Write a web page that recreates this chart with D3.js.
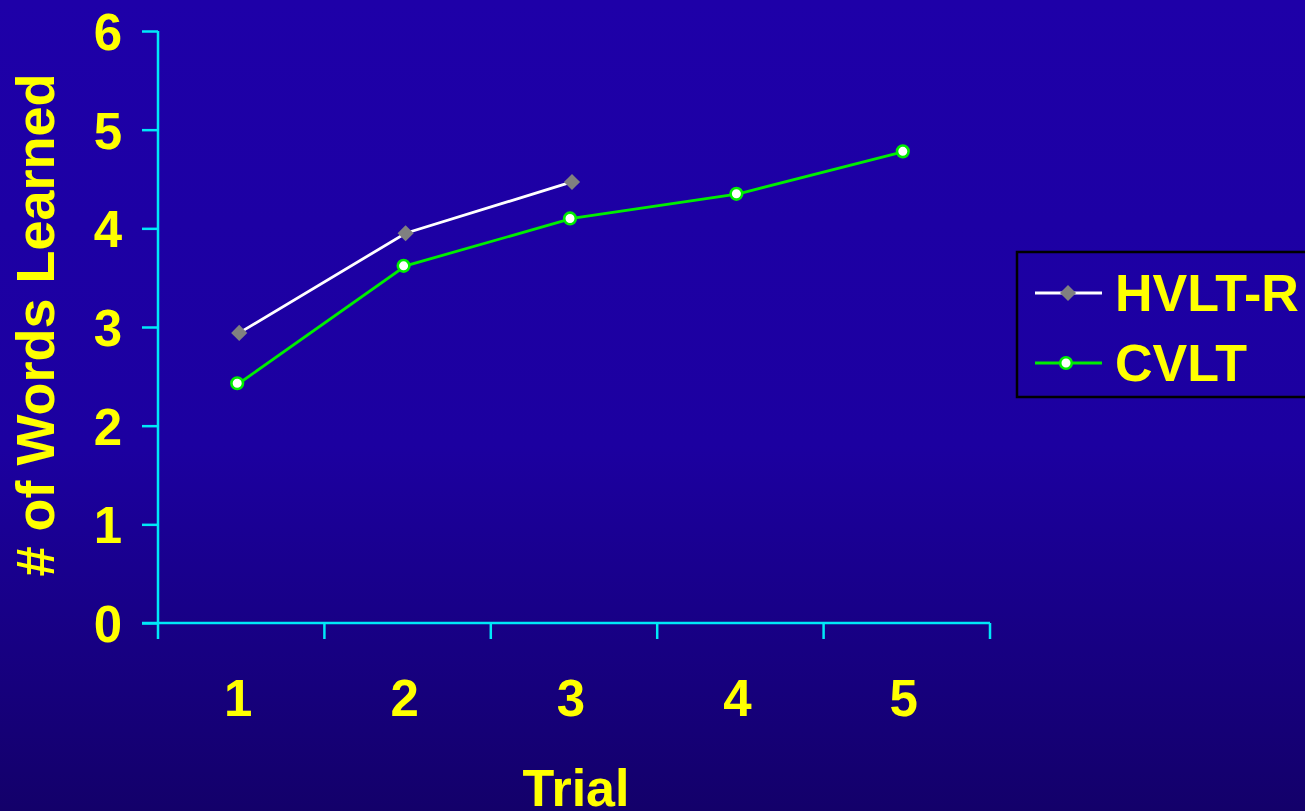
<!DOCTYPE html>
<html>
<head>
<meta charset="utf-8">
<script src="https://cdn.jsdelivr.net/npm/d3@7"></script>
<style>
  html, body { margin: 0; padding: 0; background: #1e00a6; }
  svg { display: block; }
  text { font-family: "Liberation Sans", Arial, sans-serif; font-weight: bold; fill: #ffff00; }
</style>
</head>
<body>
<script>
// Word-list learning data per trial
const trials = ["1", "2", "3", "4", "5"];
const hvltValues = [2.94, 3.95, 4.47];
const cvltValues = [2.43, 3.62, 4.10, 4.35, 4.78];
const yTicks = [0, 1, 2, 3, 4, 5, 6];
const seriesNames = ["HVLT-R", "CVLT"];

const W = 1305, H = 811;
const svg = d3.select("body").append("svg").attr("width", W).attr("height", H);

// background gradient
const defs = svg.append("defs");
const grad = defs.append("linearGradient").attr("id", "bg").attr("x1", 0).attr("y1", 0).attr("x2", 0).attr("y2", 1);
grad.append("stop").attr("offset", "0%").attr("stop-color", "#1e00a8");
grad.append("stop").attr("offset", "55%").attr("stop-color", "#1c00a0");
grad.append("stop").attr("offset", "100%").attr("stop-color", "#13006a");
svg.append("rect").attr("width", W).attr("height", H).attr("fill", "url(#bg)");

const x = d3.scaleBand().domain(trials).range([158, 990]).paddingInner(0).paddingOuter(0);
const y = d3.scaleLinear().domain([0, 6]).range([623, 31]);

const axisColor = "#00e8f8";

// y axis
const yAxis = svg.append("g").attr("transform", "translate(158,0)")
  .call(d3.axisLeft(y).tickValues(yTicks).tickSize(16).tickPadding(20).tickFormat(d3.format("d")));
yAxis.select(".domain").attr("stroke", axisColor).attr("stroke-width", 2.5).attr("d", "M0,31V623");
yAxis.selectAll(".tick line").attr("stroke", axisColor).attr("stroke-width", 2.5);
yAxis.selectAll(".tick text").attr("font-size", 51).attr("fill", "#ffff00").attr("dy", "0.36em")
  .style("font-family", "'Liberation Sans', Arial, sans-serif").style("font-weight", "bold");

// x axis: ticks at band boundaries, labels at band centers
const xg = svg.append("g");
xg.append("line").attr("x1", 142).attr("x2", 990).attr("y1", 623).attr("y2", 623)
  .attr("stroke", axisColor).attr("stroke-width", 2.5);
const bounds = trials.map(t => x(t)).concat([x(trials[trials.length - 1]) + x.bandwidth()]);
xg.selectAll("line.tk").data(bounds).join("line").attr("class", "tk")
  .attr("x1", d => d).attr("x2", d => d).attr("y1", 623).attr("y2", 639)
  .attr("stroke", axisColor).attr("stroke-width", 2.5);
xg.selectAll("text").data(trials).join("text")
  .attr("x", d => x(d) + x.bandwidth() / 2 - 3)
  .attr("y", 716).attr("text-anchor", "middle").attr("font-size", 51).text(d => d);

// axis titles
svg.append("text").attr("x", 576).attr("y", 806).attr("text-anchor", "middle")
  .attr("font-size", 52).text("Trial");
svg.append("text").attr("transform", "translate(54,325) rotate(-90)")
  .attr("text-anchor", "middle").attr("font-size", 54).text("# of Words Learned");

const cx = (d, i) => x(trials[i]) + x.bandwidth() / 2 - 2;
const line = d3.line().x((d, i) => cx(d, i)).y(d => y(d));

// HVLT-R series
svg.append("path").datum(hvltValues).attr("d", line)
  .attr("fill", "none").attr("stroke", "#ffffff").attr("stroke-width", 2.8);
svg.selectAll("path.dia").data(hvltValues).join("path").attr("class", "dia")
  .attr("d", d3.symbol(d3.symbolSquare, 130))
  .attr("transform", (d, i) => `translate(${cx(d, i)},${y(d)}) rotate(45)`)
  .attr("fill", "#808080");

// CVLT series
svg.append("path").datum(cvltValues).attr("d", line)
  .attr("fill", "none").attr("stroke", "#00ee00").attr("stroke-width", 2.8);
svg.selectAll("circle.pt").data(cvltValues).join("circle").attr("class", "pt")
  .attr("cx", (d, i) => cx(d, i) - 2).attr("cy", d => y(d)).attr("r", 5.8)
  .attr("fill", "#ffffff").attr("stroke", "#00ee00").attr("stroke-width", 2.6);

// legend
const lg = svg.append("g");
lg.append("rect").attr("x", 1017).attr("y", 252).attr("width", 320).attr("height", 145)
  .attr("fill", "none").attr("stroke", "#000000").attr("stroke-width", 2.5);
const rows = [293, 363];
// HVLT-R key
lg.append("line").attr("x1", 1035).attr("x2", 1102).attr("y1", rows[0]).attr("y2", rows[0])
  .attr("stroke", "#ffffff").attr("stroke-width", 2.8);
lg.append("path").attr("d", d3.symbol(d3.symbolSquare, 130))
  .attr("transform", `translate(1068,${rows[0]}) rotate(45)`).attr("fill", "#808080");
// CVLT key
lg.append("line").attr("x1", 1035).attr("x2", 1102).attr("y1", rows[1]).attr("y2", rows[1])
  .attr("stroke", "#00ee00").attr("stroke-width", 2.8);
lg.append("circle").attr("cx", 1066).attr("cy", rows[1]).attr("r", 5.8)
  .attr("fill", "#ffffff").attr("stroke", "#00ee00").attr("stroke-width", 2.6);
lg.selectAll("text").data(seriesNames).join("text")
  .attr("x", 1115).attr("y", (d, i) => rows[i] + 18).attr("font-size", 52).text(d => d);
</script>
</body>
</html>
